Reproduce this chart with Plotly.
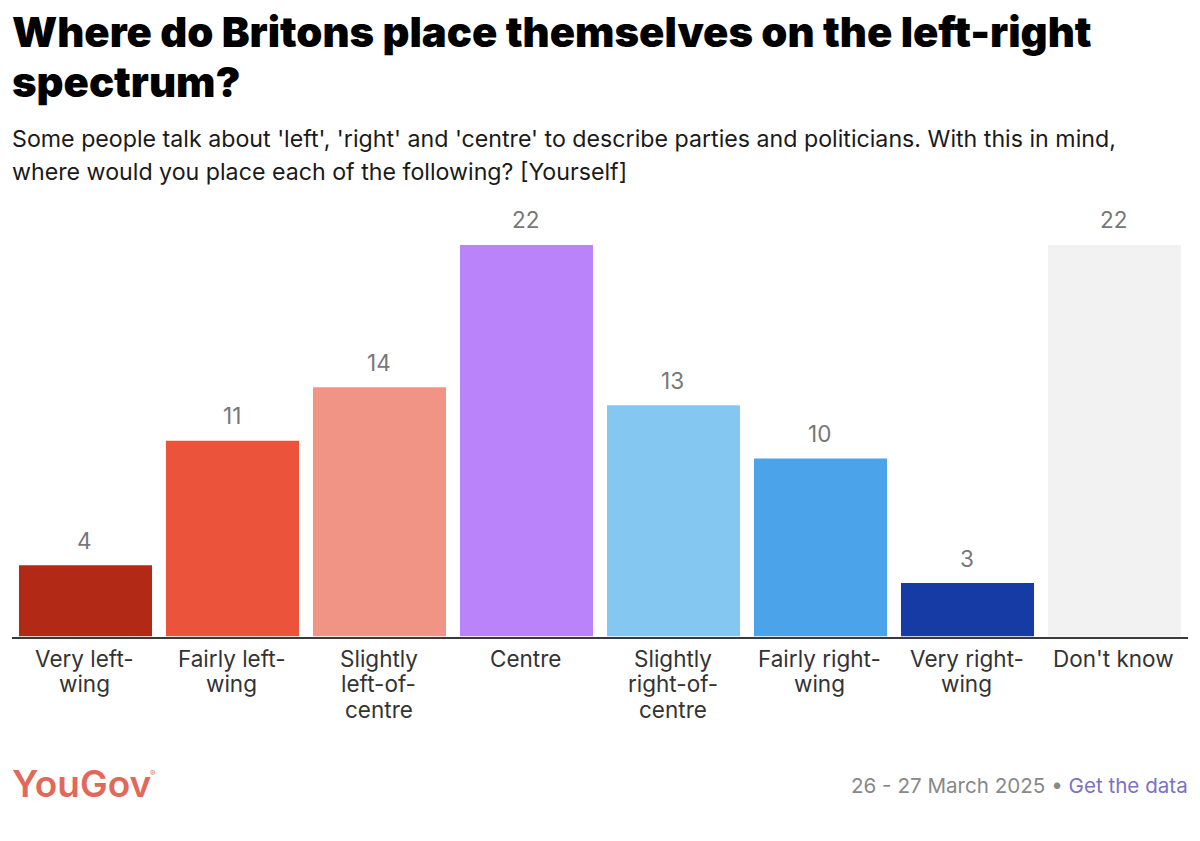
import plotly.graph_objects as go

categories = ['Very left-wing', 'Fairly left-wing', 'Slightly left-of-centre', 'Centre',
              'Slightly right-of-centre', 'Fairly right-wing', 'Very right-wing', "Don't know"]
label_lines = [['Very left-', 'wing'], ['Fairly left-', 'wing'], ['Slightly', 'left-of-', 'centre'], ['Centre'],
               ['Slightly', 'right-of-', 'centre'], ['Fairly right-', 'wing'], ['Very right-', 'wing'], ["Don't know"]]
values = [4, 11, 14, 22, 13, 10, 3, 22]
colors = ['#B22916', '#EB533A', '#F19485', '#BB83FA', '#84C8F2', '#4BA3E9', '#163BA4', '#F2F2F2']

W = 1200
H = 841
FONT = 'Inter'


# pixel position from the top of the page -> paper coordinate
def py(y):
    return 1 - y / H


fig = go.Figure(go.Bar(
    x=categories,
    y=values,
    marker=dict(color=colors, line_width=0),
    cliponaxis=False,
    hoverinfo='skip',
))

fig.update_layout(
    width=W,
    height=H,
    margin=dict(l=0, r=0, t=0, b=0),
    paper_bgcolor='white',
    plot_bgcolor='white',
    showlegend=False,
    bargap=0.095,
    font=dict(family=FONT),
)
fig.update_xaxes(
    domain=[12 / W, 1188 / W],
    showline=True,
    linecolor='#3a3a3a',
    linewidth=2,
    ticks='',
    showgrid=False,
    showticklabels=False,
)
fig.update_yaxes(
    domain=[py(636.5), py(245)],
    range=[0, 22],
    visible=False,
    showgrid=False,
)


def add_text(x, y, text, size, color, anchor='left', weight=400):
    fig.add_annotation(
        xref='paper', yref='paper', x=x / W, y=py(y), text=text, showarrow=False,
        xanchor=anchor, yanchor='middle', align=anchor,
        font=dict(family=FONT, size=size, color=color, weight=weight),
    )


# value labels sit further off the bars than textposition='outside' allows
for cat, val in zip(categories, values):
    fig.add_annotation(
        x=cat, y=val, yshift=25, xshift=-1, text=str(val), showarrow=False, yanchor='middle',
        font=dict(family=FONT, size=22.5, color='#777777'),
    )

# category labels, one annotation per line to get the tight line spacing
for cat, lines in zip(categories, label_lines):
    for i, line in enumerate(lines):
        fig.add_annotation(
            x=cat, xshift=-1, yref='paper', y=py(658 + i * 25.5), text=line, showarrow=False, yanchor='middle',
            font=dict(family=FONT, size=22.5, color='#333333'),
        )

add_text(10, 32, 'Where do Britons place themselves on the left-right', 41.8, '#000000', weight=900)
add_text(10, 82, 'spectrum?', 41.8, '#000000', weight=900)
add_text(10, 139, "Some people talk about 'left', 'right' and 'centre' to describe parties and politicians. With this in mind,",
         23.2, '#1a1a1a')
add_text(10, 172, "where would you place each of the following? [Yourself]", 23.2, '#1a1a1a')
add_text(10, 783, 'YouGov', 37, '#E2695A', weight=600)
add_text(152, 773, '®', 8, '#E2695A', anchor='center')
add_text(1190, 785, '26 - 27 March 2025 • <span style="color:#7B72C4">Get the data</span>', 20.6, '#888888', anchor='right')

# drop the default page margin so the figure fills the window
fig.write_html("out.html", config={'displayModeBar': False}, post_script="document.body.style.margin='0';")
